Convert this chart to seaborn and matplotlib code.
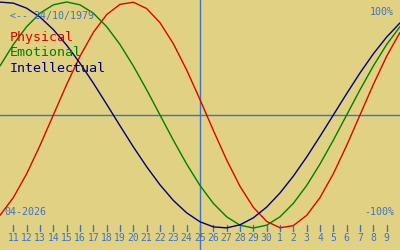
import matplotlib
matplotlib.use("Agg")
import matplotlib.pyplot as plt
import seaborn as sns
import pandas as pd

sns.set_theme(style="white")
plt.rcParams['font.family'] = ['DejaVu Sans Mono', 'DejaVu Sans']

day_labels = ["10", "11", "12", "13", "14", "15", "16", "17", "18", "19", "20", "21", "22", "23", "24",
              "25", "26", "27", "28", "29", "30", "1", "2", "3", "4", "5", "6", "7", "8", "9", "10"]
physical = [-0.888, -0.731, -0.520, -0.270, 0.000, 0.270, 0.520, 0.731, 0.888, 0.979, 0.998, 0.942,
            0.817, 0.631, 0.398, 0.136, -0.136, -0.398, -0.631, -0.817, -0.942, -0.998, -0.979,
            -0.888, -0.731, -0.520, -0.270, 0.000, 0.270, 0.520, 0.731]
emotional = [0.434, 0.624, 0.782, 0.901, 0.975, 1.000, 0.975, 0.901, 0.782, 0.624, 0.434, 0.223,
             0.000, -0.223, -0.434, -0.624, -0.782, -0.901, -0.975, -1.000, -0.975, -0.901, -0.782,
             -0.624, -0.434, -0.223, 0.000, 0.223, 0.434, 0.624, 0.782]
intellectual = [0.999, 0.990, 0.945, 0.866, 0.756, 0.618, 0.458, 0.282, 0.095, -0.095, -0.282, -0.458,
                -0.618, -0.756, -0.866, -0.945, -0.990, -0.999, -0.972, -0.910, -0.815, -0.690, -0.541,
                -0.372, -0.189, 0.000, 0.189, 0.372, 0.541, 0.690, 0.815]
series_names = ["Physical", "Emotional", "Intellectual"]
series_colors = ["#e00000", "#008000", "#000080"]
birth_label = "<-- 24/10/1979"
month_label = "04-2026"
today_index = 15

idx = list(range(len(day_labels)))
df = pd.DataFrame({"idx": idx * 3,
                   "value": physical + emotional + intellectual,
                   "series": sum([[n] * len(idx) for n in series_names], [])})

bg = "#e0d282"
blue = "#3f72c6"
fig = plt.figure(figsize=(4, 2.5), dpi=100)
fig.patch.set_facecolor(bg)
ax = fig.add_axes([0, 0, 1, 1])
ax.set_facecolor(bg)

sns.lineplot(data=df, x="idx", y="value", hue="series", palette=dict(zip(series_names, series_colors)),
             linewidth=1.0, legend=False, ax=ax, zorder=3)

ax.set_xlim(0, 30)
ax.set_ylim(-135 / 113, 115 / 113)
ax.axhline(0, color=blue, linewidth=1.0, zorder=2)
ax.axvline(today_index, color=blue, linewidth=1.0, zorder=2)
for s in ax.spines.values():
    s.set_visible(False)
ax.set_xticks([])
ax.set_yticks([])
ax.set_xlabel("")
ax.set_ylabel("")

# bottom day ticks
tick_top = -110 / 113
tick_bot = -116 / 113
for i in range(1, len(day_labels) - 1):
    ax.plot([i, i], [tick_top, tick_bot], color=blue, linewidth=1.0, zorder=2)
    ax.text(i, -123 / 113, day_labels[i], color=blue, fontsize=7, ha="center", va="center")

ax.text(0.025, 0.937, birth_label, transform=ax.transAxes, color=blue, fontsize=7.2, ha="left", va="center")
for k, (n, c) in enumerate(zip(series_names, series_colors)):
    ax.text(0.025, 0.848 - k * 0.06, n, transform=ax.transAxes, color=c, fontsize=9.6, ha="left", va="center")
ax.text(0.985, 0.952, "100%", transform=ax.transAxes, color=blue, fontsize=7.2, ha="right", va="center")
ax.text(0.985, 0.152, "-100%", transform=ax.transAxes, color=blue, fontsize=7.2, ha="right", va="center")
ax.text(0.01, 0.152, month_label, transform=ax.transAxes, color=blue, fontsize=7.2, ha="left", va="center")

fig.savefig("out.png", dpi=100, facecolor=bg)
